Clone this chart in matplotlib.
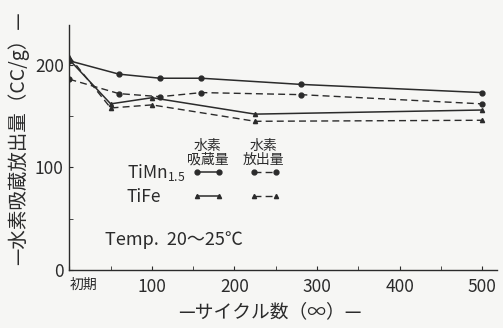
import matplotlib
matplotlib.use("Agg")
import matplotlib.pyplot as plt

plt.rcParams['font.family'] = ['Noto Sans CJK JP', 'DejaVu Sans']

# ── data (cycles, hydrogen capacity cc/g) ──
timn_cycles = [0, 60, 110, 160, 280, 500]
timn_absorb = [204, 191, 187, 187, 181, 173]
timn_release = [186, 172, 169, 173, 171, 162]

tife_cycles = [0, 50, 100, 225, 500]
tife_absorb = [205, 162, 168, 152, 156]
tife_release = [208, 158, 161, 145, 146]

x_ticks = [0, 100, 200, 300, 400, 500]
x_ticklabels = ['初期', '100', '200', '300', '400', '500']
y_ticks = [0, 100, 200]

ink = '#2b2b2b'
paper = '#f6f6f4'

fig = plt.figure(figsize=(5.03, 3.28), dpi=100, facecolor=paper)
ax = fig.add_axes([0.138, 0.177, 0.850, 0.747], facecolor=paper)

solid = dict(color=ink, lw=1.1, ls='-')
dashed = dict(color=ink, lw=1.0, ls=(0, (5, 3)))

l1, = ax.plot(timn_cycles, timn_absorb, marker='o', ms=3.5, **solid)
l2, = ax.plot(timn_cycles, timn_release, marker='o', ms=3.5, **dashed)
l3, = ax.plot(tife_cycles, tife_absorb, marker='^', ms=3, **solid)
l4, = ax.plot(tife_cycles, tife_release, marker='^', ms=3, **dashed)

ax.set_xlim(0, 518)
ax.set_ylim(0, 239)
for s in ['top', 'right']:
    ax.spines[s].set_visible(False)
for s in ['left', 'bottom']:
    ax.spines[s].set_color(ink)
    ax.spines[s].set_linewidth(1.0)

ax.set_xticks(x_ticks)
ax.set_xticklabels(x_ticklabels)
ax.set_xticks(range(50, 501, 100), minor=True)
ax.set_yticks(y_ticks)
ax.set_yticks([50, 150], minor=True)
ax.tick_params(which='both', direction='in', length=3, color=ink, labelcolor=ink)
ax.tick_params(axis='x', labelsize=12.5, pad=6)
ax.tick_params(axis='y', labelsize=12.5, pad=4)
first = ax.get_xticklabels()[0]
first.set_ha('left')
first.set_fontsize(10)

# legend: two columns (absorb / release), rows TiMn1.5 / TiFe
leg = ax.legend([l1, l3, l2, l4], ['', '', '', ''], ncol=2, numpoints=2,
                frameon=False, loc='center left', bbox_to_anchor=(0.289, 0.347),
                fontsize=10, handlelength=2.16, handletextpad=0,
                columnspacing=1.94, labelspacing=0.7, borderpad=0, borderaxespad=0)

ax.text(0.324, 0.478, '水素\n吸蔵量', transform=ax.transAxes, ha='center',
        va='center', fontsize=10, linespacing=1.0, color=ink)
ax.text(0.453, 0.478, '水素\n放出量', transform=ax.transAxes, ha='center',
        va='center', fontsize=10, linespacing=1.0, color=ink)
ax.text(0.1345, 0.396, r'TiMn$_{\mathregular{1.5}}$', transform=ax.transAxes,
        ha='left', va='center', fontsize=12.5, color=ink)
ax.text(0.1345, 0.298, 'TiFe', transform=ax.transAxes, ha='left', va='center',
        fontsize=12.5, color=ink)
ax.text(0.083, 0.122, 'Temp.  20～25℃', transform=ax.transAxes, ha='left',
        va='center', fontsize=13, color=ink)

fig.text(18 / 503, 1 - 138 / 328, '—水素吸蔵放出量（CC/g）—', rotation=90,
         ha='center', va='center', fontsize=14, color=ink)
fig.text(270 / 503, 1 - 312 / 328, '—サイクル数（∞）—', ha='center',
         va='center', fontsize=13.5, color=ink)

fig.savefig('out.png', dpi=100, facecolor=paper)
